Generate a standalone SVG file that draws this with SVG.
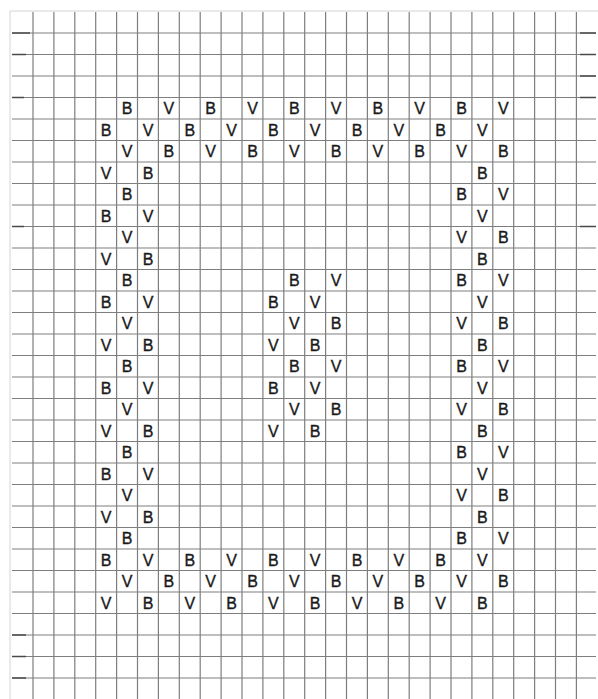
<svg xmlns="http://www.w3.org/2000/svg" width="598" height="699" viewBox="0 0 598 699">
<style>
.grid line{stroke:#7e7e7e;stroke-width:1.2}
.stub line{stroke:#4a4a4a;stroke-width:1.5}
.edge line{stroke:#d4d4d4;stroke-width:1}
text{font-family:"Liberation Sans",Arial,sans-serif;font-size:16px;fill:#1a1a1a;stroke:#1a1a1a;stroke-width:0.35;text-anchor:middle}
</style>
<rect width="598" height="699" fill="#ffffff"/>
<g class="edge">
<line x1="10" y1="11" x2="598" y2="11"/>
<line x1="10" y1="11" x2="10" y2="699"/>
</g>
<g id="grid" class="grid">
<line x1="33" y1="12" x2="33" y2="699"/><line x1="53.9" y1="12" x2="53.9" y2="699"/><line x1="74.8" y1="12" x2="74.8" y2="699"/><line x1="95.7" y1="12" x2="95.7" y2="699"/><line x1="116.6" y1="12" x2="116.6" y2="699"/><line x1="137.5" y1="12" x2="137.5" y2="699"/><line x1="158.4" y1="12" x2="158.4" y2="699"/><line x1="179.3" y1="12" x2="179.3" y2="699"/><line x1="200.2" y1="12" x2="200.2" y2="699"/><line x1="221.1" y1="12" x2="221.1" y2="699"/><line x1="242" y1="12" x2="242" y2="699"/><line x1="262.9" y1="12" x2="262.9" y2="699"/><line x1="283.8" y1="12" x2="283.8" y2="699"/><line x1="304.7" y1="12" x2="304.7" y2="699"/><line x1="325.6" y1="12" x2="325.6" y2="699"/><line x1="346.5" y1="12" x2="346.5" y2="699"/><line x1="367.4" y1="12" x2="367.4" y2="699"/><line x1="388.3" y1="12" x2="388.3" y2="699"/><line x1="409.2" y1="12" x2="409.2" y2="699"/><line x1="430.1" y1="12" x2="430.1" y2="699"/><line x1="451" y1="12" x2="451" y2="699"/><line x1="471.9" y1="12" x2="471.9" y2="699"/><line x1="492.8" y1="12" x2="492.8" y2="699"/><line x1="513.7" y1="12" x2="513.7" y2="699"/><line x1="534.6" y1="12" x2="534.6" y2="699"/><line x1="555.5" y1="12" x2="555.5" y2="699"/><line x1="576.4" y1="12" x2="576.4" y2="699"/>
<line x1="12" y1="33" x2="596" y2="33"/><line x1="12" y1="54.5" x2="596" y2="54.5"/><line x1="12" y1="76" x2="596" y2="76"/><line x1="12" y1="97.5" x2="596" y2="97.5"/><line x1="12" y1="119" x2="596" y2="119"/><line x1="12" y1="140.5" x2="596" y2="140.5"/><line x1="12" y1="162" x2="596" y2="162"/><line x1="12" y1="183.5" x2="596" y2="183.5"/><line x1="12" y1="205" x2="596" y2="205"/><line x1="12" y1="226.5" x2="596" y2="226.5"/><line x1="12" y1="248" x2="596" y2="248"/><line x1="12" y1="269.5" x2="596" y2="269.5"/><line x1="12" y1="291" x2="596" y2="291"/><line x1="12" y1="312.5" x2="596" y2="312.5"/><line x1="12" y1="334" x2="596" y2="334"/><line x1="12" y1="355.5" x2="596" y2="355.5"/><line x1="12" y1="377" x2="596" y2="377"/><line x1="12" y1="398.5" x2="596" y2="398.5"/><line x1="12" y1="420" x2="596" y2="420"/><line x1="12" y1="441.5" x2="596" y2="441.5"/><line x1="12" y1="463" x2="596" y2="463"/><line x1="12" y1="484.5" x2="596" y2="484.5"/><line x1="12" y1="506" x2="596" y2="506"/><line x1="12" y1="527.5" x2="596" y2="527.5"/><line x1="12" y1="549" x2="596" y2="549"/><line x1="12" y1="570.5" x2="596" y2="570.5"/><line x1="12" y1="592" x2="596" y2="592"/><line x1="12" y1="613.5" x2="596" y2="613.5"/><line x1="12" y1="635" x2="596" y2="635"/><line x1="12" y1="656.5" x2="596" y2="656.5"/><line x1="12" y1="678" x2="596" y2="678"/>
</g>
<g class="stub">
<line x1="12" y1="33" x2="30" y2="33"/><line x1="12" y1="54.5" x2="26" y2="54.5"/><line x1="12" y1="97.5" x2="24" y2="97.5"/><line x1="12" y1="226.5" x2="24" y2="226.5"/><line x1="12" y1="635" x2="26" y2="635"/><line x1="12" y1="656.5" x2="26" y2="656.5"/><line x1="12" y1="678" x2="26" y2="678"/>
<line x1="580" y1="33" x2="596" y2="33"/><line x1="580" y1="54.5" x2="596" y2="54.5"/><line x1="580" y1="76" x2="596" y2="76"/><line x1="580" y1="97.5" x2="596" y2="97.5"/><line x1="580" y1="226.5" x2="596" y2="226.5"/>
</g>
<g id="letters">
<text x="127.1" y="114">B</text><text x="168.9" y="114">V</text><text x="210.7" y="114">B</text><text x="252.5" y="114">V</text><text x="294.3" y="114">B</text><text x="336.1" y="114">V</text><text x="377.9" y="114">B</text><text x="419.7" y="114">V</text><text x="461.5" y="114">B</text><text x="503.3" y="114">V</text>
<text x="106.2" y="135.5">B</text><text x="148" y="135.5">V</text><text x="189.8" y="135.5">B</text><text x="231.6" y="135.5">V</text><text x="273.4" y="135.5">B</text><text x="315.2" y="135.5">V</text><text x="357" y="135.5">B</text><text x="398.8" y="135.5">V</text><text x="440.6" y="135.5">B</text><text x="482.4" y="135.5">V</text>
<text x="127.1" y="157">V</text><text x="168.9" y="157">B</text><text x="210.7" y="157">V</text><text x="252.5" y="157">B</text><text x="294.3" y="157">V</text><text x="336.1" y="157">B</text><text x="377.9" y="157">V</text><text x="419.7" y="157">B</text><text x="461.5" y="157">V</text><text x="503.3" y="157">B</text>
<text x="106.2" y="178.5">V</text><text x="148" y="178.5">B</text><text x="482.4" y="178.5">B</text>
<text x="127.1" y="200">B</text><text x="461.5" y="200">B</text><text x="503.3" y="200">V</text>
<text x="106.2" y="221.5">B</text><text x="148" y="221.5">V</text><text x="482.4" y="221.5">V</text>
<text x="127.1" y="243">V</text><text x="461.5" y="243">V</text><text x="503.3" y="243">B</text>
<text x="106.2" y="264.5">V</text><text x="148" y="264.5">B</text><text x="482.4" y="264.5">B</text>
<text x="127.1" y="286">B</text><text x="294.3" y="286">B</text><text x="336.1" y="286">V</text><text x="461.5" y="286">B</text><text x="503.3" y="286">V</text>
<text x="106.2" y="307.5">B</text><text x="148" y="307.5">V</text><text x="273.4" y="307.5">B</text><text x="315.2" y="307.5">V</text><text x="482.4" y="307.5">V</text>
<text x="127.1" y="329">V</text><text x="294.3" y="329">V</text><text x="336.1" y="329">B</text><text x="461.5" y="329">V</text><text x="503.3" y="329">B</text>
<text x="106.2" y="350.5">V</text><text x="148" y="350.5">B</text><text x="273.4" y="350.5">V</text><text x="315.2" y="350.5">B</text><text x="482.4" y="350.5">B</text>
<text x="127.1" y="372">B</text><text x="294.3" y="372">B</text><text x="336.1" y="372">V</text><text x="461.5" y="372">B</text><text x="503.3" y="372">V</text>
<text x="106.2" y="393.5">B</text><text x="148" y="393.5">V</text><text x="273.4" y="393.5">B</text><text x="315.2" y="393.5">V</text><text x="482.4" y="393.5">V</text>
<text x="127.1" y="415">V</text><text x="294.3" y="415">V</text><text x="336.1" y="415">B</text><text x="461.5" y="415">V</text><text x="503.3" y="415">B</text>
<text x="106.2" y="436.5">V</text><text x="148" y="436.5">B</text><text x="273.4" y="436.5">V</text><text x="315.2" y="436.5">B</text><text x="482.4" y="436.5">B</text>
<text x="127.1" y="458">B</text><text x="461.5" y="458">B</text><text x="503.3" y="458">V</text>
<text x="106.2" y="479.5">B</text><text x="148" y="479.5">V</text><text x="482.4" y="479.5">V</text>
<text x="127.1" y="501">V</text><text x="461.5" y="501">V</text><text x="503.3" y="501">B</text>
<text x="106.2" y="522.5">V</text><text x="148" y="522.5">B</text><text x="482.4" y="522.5">B</text>
<text x="127.1" y="544">B</text><text x="461.5" y="544">B</text><text x="503.3" y="544">V</text>
<text x="106.2" y="565.5">B</text><text x="148" y="565.5">V</text><text x="189.8" y="565.5">B</text><text x="231.6" y="565.5">V</text><text x="273.4" y="565.5">B</text><text x="315.2" y="565.5">V</text><text x="357" y="565.5">B</text><text x="398.8" y="565.5">V</text><text x="440.6" y="565.5">B</text><text x="482.4" y="565.5">V</text>
<text x="127.1" y="587">V</text><text x="168.9" y="587">B</text><text x="210.7" y="587">V</text><text x="252.5" y="587">B</text><text x="294.3" y="587">V</text><text x="336.1" y="587">B</text><text x="377.9" y="587">V</text><text x="419.7" y="587">B</text><text x="461.5" y="587">V</text><text x="503.3" y="587">B</text>
<text x="106.2" y="608.5">V</text><text x="148" y="608.5">B</text><text x="189.8" y="608.5">V</text><text x="231.6" y="608.5">B</text><text x="273.4" y="608.5">V</text><text x="315.2" y="608.5">B</text><text x="357" y="608.5">V</text><text x="398.8" y="608.5">B</text><text x="440.6" y="608.5">V</text><text x="482.4" y="608.5">B</text>
</g>
</svg>
